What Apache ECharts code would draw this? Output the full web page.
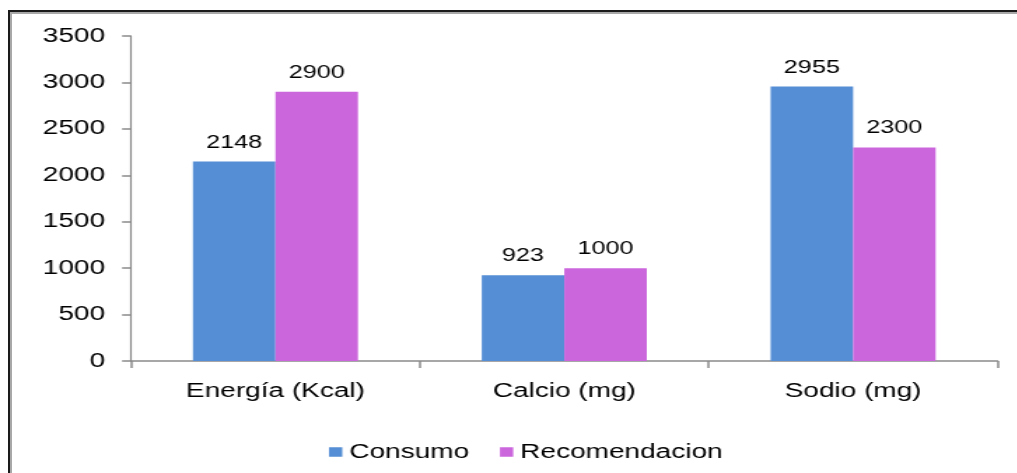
<!DOCTYPE html>
<html>
<head>
<meta charset="utf-8">
<script src="https://cdn.jsdelivr.net/npm/echarts@6/dist/echarts.min.js"></script>
<style>
  html, body { margin: 0; padding: 0; background: #fff; overflow: hidden; }
  #frame {
    position: absolute; left: 8px; top: 10px; width: 1009px; height: 463px;
    border-left: 2px solid #1a1a1a; border-top: 2px solid #1a1a1a;
    box-sizing: border-box;
  }
  #frame::after {
    content: ""; position: absolute; left: 0; top: 0; right: 0; bottom: 0;
    border-left: 2px solid #a8a8a8; border-top: 2px solid #a8a8a8;
  }
  /* the chart is laid out narrow and widened with a horizontal stretch */
  #chart {
    position: absolute; left: 0; top: 0;
    width: 726.43px; height: 473px;
    transform: scaleX(1.4); transform-origin: 0 0;
  }
</style>
</head>
<body>
<div id="frame"></div>
<div id="chart"></div>
<script>
const categories = ['Energía (Kcal)', 'Calcio (mg)', 'Sodio (mg)'];
const consumo = [2148, 923, 2955];
const recomendacion = [2900, 1000, 2300];
const yTicks = { min: 0, max: 3500, interval: 500 };

const FONT = '"Liberation Sans", Arial, sans-serif';
const chart = echarts.init(document.getElementById('chart'), null, { renderer: 'canvas' });

const labelStyle = {
  show: true,
  position: 'top',
  distance: 10,
  color: '#000',
  fontFamily: FONT,
  fontSize: 18
};

chart.setOption({
  animation: false,
  backgroundColor: 'transparent',
  textStyle: { fontFamily: FONT },
  grid: { left: 93.6, right: 13.5, top: 36, bottom: 112, containLabel: false },
  legend: {
    left: 230,
    top: 437,
    itemWidth: 9.5,
    itemHeight: 9.5,
    itemGap: 22,
    icon: 'rect',
    textStyle: { color: '#000', fontSize: 20, fontFamily: FONT, padding: [0, 0, 0, 0] },
    data: ['Consumo', 'Recomendacion']
  },
  xAxis: {
    type: 'category',
    data: categories,
    axisLine: { lineStyle: { color: '#8a8a8a', width: 1.5 } },
    axisTick: { show: true, length: 7, lineStyle: { color: '#8a8a8a', width: 1.5 } },
    axisLabel: { color: '#000', fontSize: 20, fontFamily: FONT, margin: 20 },
    splitLine: { show: false }
  },
  yAxis: {
    type: 'value',
    min: yTicks.min,
    max: yTicks.max,
    interval: yTicks.interval,
    axisLine: { show: true, lineStyle: { color: '#8a8a8a', width: 1.2 } },
    axisTick: { show: true, length: 6.4, lineStyle: { color: '#8a8a8a', width: 1.5 } },
    axisLabel: {
      color: '#000', fontSize: 20, fontFamily: FONT, margin: 18.6,
      formatter: v => String(v)
    },
    splitLine: { show: false }
  },
  series: [
    {
      name: 'Consumo',
      type: 'bar',
      data: consumo,
      barGap: '0%',
      barCategoryGap: '42.86%',
      itemStyle: { color: '#558ED5' },
      label: labelStyle
    },
    {
      name: 'Recomendacion',
      type: 'bar',
      data: recomendacion,
      barGap: '0%',
      barCategoryGap: '42.86%',
      itemStyle: { color: '#CC66DD' },
      label: labelStyle
    }
  ]
});
</script>
</body>
</html>
